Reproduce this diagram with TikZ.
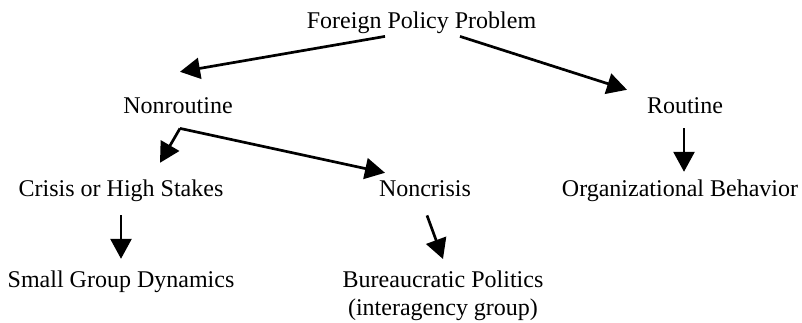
\documentclass[tikz,border=0pt]{standalone}
\usepackage{fontspec}
\setmainfont{Liberation Serif}
\usetikzlibrary{positioning}
\usetikzlibrary{arrows.meta}
\usetikzlibrary{calc}
\tikzset{
choice/.style={font=\fontsize{12}{14}\selectfont, inner sep=0pt, text height=8.4pt, text depth=3pt, anchor=base},
outcome/.style={font=\fontsize{12}{14}\selectfont, inner sep=0pt, align=center, anchor=north},
branch/.style={-{Triangle[length=10pt, width=10.5pt]}, line width=1.35pt}
}

\begin{document}
\begin{tikzpicture}[x=0.5pt, y=-0.5pt]
    \useasboundingbox (0,0) rectangle (802,322);
    \node[choice] (problem) at (421.5,28) {Foreign Policy Problem};
    \node[choice] (nonroutine) at (178,113) {Nonroutine};
    \node[choice] (routine) at (685,113) {Routine};
    \node[choice] (crisis) at (121,196) {Crisis or High Stakes};
    \node[choice] (noncrisis) at (425,196) {Noncrisis};
    \node[choice] (orgbehavior) at (680,196) {Organizational Behavior};
    \node[choice] (smallgroup) at (121,287) {Small Group Dynamics};
    \node[outcome] (bureaucratic) at (443,270.6) {Bureaucratic Politics\\(interagency group)};
    % first split
    \draw[branch] ($(problem.south)+(-36.5,2)$) -- ($(nonroutine.north)+(2,-24)$);
    \draw[branch] ($(problem.south)+(38.5,2)$) -- ($(routine.north)+(-58,-6)$);
    % nonroutine cases
    \draw[branch] ($(nonroutine.south)+(2,9)$) -- ($(crisis.north)+(39,-16)$);
    \draw[branch] ($(nonroutine.south)+(2,9)$) -- ($(noncrisis.north)+(-40,-6)$);
    \draw[branch] ($(routine.south)+(-1,9)$) -- ($(orgbehavior.north)+(4,-7)$);
    % outcomes
    \draw[branch] ($(crisis.south)+(0,13)$) -- ($(smallgroup.north)+(0,-11)$);
    \draw[branch] ($(noncrisis.south)+(2,13)$) -- ($(bureaucratic.north)+(0,-11.6)$);
\end{tikzpicture}
\end{document}
